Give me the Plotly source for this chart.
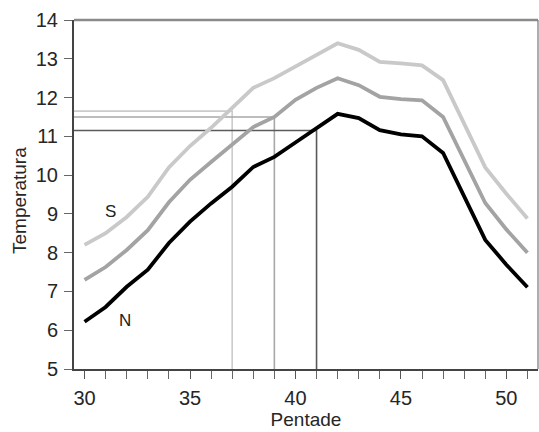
import plotly.graph_objects as go

pentade = list(range(30, 52))

temp_s = [8.2, 8.5, 8.92, 9.44, 10.2, 10.75, 11.22, 11.74, 12.25, 12.5, 12.8, 13.1,
          13.4, 13.23, 12.92, 12.88, 12.83, 12.45, 11.35, 10.2, 9.52, 8.88]
temp_mid = [7.3, 7.63, 8.07, 8.58, 9.3, 9.88, 10.34, 10.8, 11.24, 11.5, 11.94, 12.25,
            12.5, 12.32, 12.02, 11.96, 11.93, 11.5, 10.39, 9.28, 8.6, 8.0]
temp_n = [6.22, 6.6, 7.12, 7.56, 8.25, 8.8, 9.27, 9.7, 10.21, 10.47, 10.84, 11.2,
          11.58, 11.47, 11.16, 11.05, 11.0, 10.57, 9.45, 8.33, 7.69, 7.11]

# marker lines: pentade reached by each series at its reference temperature
ref_x = [37, 39, 41]
ref_y = [11.65, 11.5, 11.15]
ref_colors = ["#cbcbcb", "#a8a8a8", "#5a5a5a"]

line_colors = ["#c9c9c9", "#a3a3a3", "#000000"]

x_min, x_max = 29.5, 51.5
y_min, y_max = 5, 14

FONT = "Liberation Sans, Arial"
TEXT = "#262626"

fig = go.Figure()

# reference drop lines
for rx, ry, rc in zip(ref_x, ref_y, ref_colors):
    fig.add_trace(go.Scatter(
        x=[x_min, rx, rx], y=[ry, ry, y_min], mode="lines",
        line=dict(color=rc, width=1.6), hoverinfo="skip", showlegend=False))

for vals, col in zip([temp_s, temp_mid, temp_n], line_colors):
    fig.add_trace(go.Scatter(
        x=pentade, y=vals, mode="lines",
        line=dict(color=col, width=3.8), showlegend=False))

fig.add_annotation(x=31.25, y=9.05, text="S", showarrow=False,
                   font=dict(family=FONT, size=17, color="#222"))
fig.add_annotation(x=31.9, y=6.25, text="N", showarrow=False,
                   font=dict(family=FONT, size=17, color="#222"))

# y-axis title
fig.add_annotation(xref="paper", yref="paper", x=-0.116, y=0.482,
                   text="Temperatura", textangle=-90, showarrow=False,
                   xanchor="center", yanchor="middle",
                   font=dict(family=FONT, size=19, color=TEXT))

# frame: top and right edges
fig.add_shape(type="line", xref="paper", yref="paper", x0=0, x1=1, y0=1, y1=1,
              line=dict(color="#8a8a8a", width=2.5))
fig.add_shape(type="line", xref="paper", yref="paper", x0=1, x1=1, y0=0, y1=1,
              line=dict(color="#777777", width=1.2))

fig.update_layout(
    width=539, height=432,
    margin=dict(l=74, r=1, t=20, b=63),
    plot_bgcolor="white", paper_bgcolor="white",
    font=dict(family=FONT, color=TEXT),
    xaxis=dict(
        range=[x_min, x_max], tickmode="array", tickvals=[30, 35, 40, 45, 50],
        ticks="outside", ticklen=8, tickwidth=1.2, tickcolor="#555",
        ticklabelstandoff=2,
        minor=dict(tickmode="linear", tick0=30, dtick=1, ticks="outside",
                   ticklen=8, tickwidth=1.2, tickcolor="#666"),
        showgrid=False, zeroline=False, showline=True, linecolor="#444", linewidth=2,
        tickfont=dict(size=20, color=TEXT),
        title=dict(text="Pentade", font=dict(size=19, color=TEXT), standoff=5),
    ),
    yaxis=dict(
        range=[y_min, y_max], tickmode="linear", tick0=5, dtick=1,
        ticks="outside", ticklen=8, tickwidth=1.2, tickcolor="#666",
        ticklabelstandoff=2,
        showgrid=False, zeroline=False, showline=True, linecolor="#444", linewidth=2,
        tickfont=dict(size=20, color=TEXT),
    ),
)

fig.write_html("out.html")
